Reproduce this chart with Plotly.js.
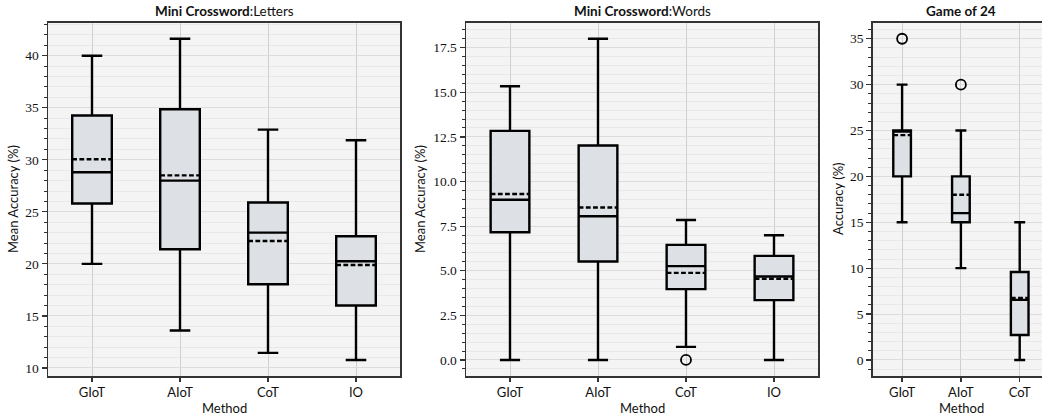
<!DOCTYPE html>
<html>
<head>
<meta charset="utf-8">
<script src="https://cdn.plot.ly/plotly-3.0.1.min.js"></script>
<style>html,body{margin:0;padding:0;background:#fff;}#chart{width:1042px;height:416px;}</style>
</head>
<body>
<div id="chart"></div>
<script>
// ---- data ----
const methods4 = ['GIoT', 'AIoT', 'CoT', 'IO'];
const methods3 = ['GIoT', 'AIoT', 'CoT'];

const lettersQ1 = [25.8, 21.4, 18.05, 16.0];
const lettersMedian = [28.8, 28.0, 23.0, 20.25];
const lettersQ3 = [34.25, 34.85, 25.9, 22.65];
const lettersLower = [20.0, 13.6, 11.45, 10.77];
const lettersUpper = [40.0, 41.63, 32.9, 31.88];
const lettersMean = [30.05, 28.5, 22.2, 19.9];

const wordsQ1 = [7.16, 5.52, 3.97, 3.35];
const wordsMedian = [8.98, 8.05, 5.26, 4.68];
const wordsQ3 = [12.84, 12.02, 6.45, 5.83];
const wordsLower = [0.0, 0.0, 0.73, 0.0];
const wordsUpper = [15.34, 18.0, 7.84, 6.99];
const wordsMean = [9.3, 8.54, 4.88, 4.55];
const wordsOutlierX = ['CoT'];
const wordsOutlierY = [0.0];

const g24Q1 = [20, 15, 2.72];
const g24Median = [25, 16, 6.55];
const g24Q3 = [25, 20, 9.59];
const g24Lower = [15, 10, 0];
const g24Upper = [30, 25, 15];
const g24Mean = [24.5, 18, 6.75];
const g24OutlierX = ['GIoT', 'AIoT'];
const g24OutlierY = [35, 30];

// ---- styling ----
const W = 1042, H = 416;
const BOXFILL = '#dde0e5';
const serif = 'Liberation Serif, serif';
const sans = 'Lato, DejaVu Sans, sans-serif';

function boxTrace(x, q1, med, q3, lo, hi, mean, xa, ya, width, ww) {
  return {
    type: 'box', x: x, q1: q1, median: med, q3: q3,
    lowerfence: lo, upperfence: hi, mean: mean,
    boxmean: true, boxpoints: false,
    width: width, whiskerwidth: ww,
    fillcolor: BOXFILL,
    line: {color: '#000', width: 2.4},
    xaxis: xa, yaxis: ya, showlegend: false, hoverinfo: 'skip'
  };
}
function outlierTrace(x, y, xa, ya) {
  return {
    type: 'scatter', mode: 'markers', x: x, y: y,
    marker: {symbol: 'circle-open', size: 10, color: '#000', line: {width: 1.8, color: '#000'}},
    xaxis: xa, yaxis: ya, showlegend: false, hoverinfo: 'skip', cliponaxis: false
  };
}

const data = [
  boxTrace(methods4, lettersQ1, lettersMedian, lettersQ3, lettersLower, lettersUpper, lettersMean, 'x', 'y', 0.45, 0.52),
  boxTrace(methods4, wordsQ1, wordsMedian, wordsQ3, wordsLower, wordsUpper, wordsMean, 'x2', 'y2', 0.44, 0.52),
  outlierTrace(wordsOutlierX, wordsOutlierY, 'x2', 'y2'),
  boxTrace(methods3, g24Q1, g24Median, g24Q3, g24Lower, g24Upper, g24Mean, 'x3', 'y3', 0.3, 0.62),
  outlierTrace(g24OutlierX, g24OutlierY, 'x3', 'y3')
];

const yDom = [(H - 376) / H, (H - 22.7) / H];
function xAxis(domain, range, anchor) {
  return {
    domain: domain, range: range, type: 'category', anchor: anchor,
    categoryorder: 'array',
    showgrid: true, gridcolor: '#cfcfcf', gridwidth: 1,
    showline: true, linecolor: '#333', linewidth: 1.5, mirror: true,
    ticks: 'outside', ticklen: 4, tickcolor: '#333', tickwidth: 1.2,
    tickfont: {family: sans, size: 13, color: '#111'},
    zeroline: false, fixedrange: true
  };
}
function yAxis(range, dtick, minorDtick, fmt, anchor, mirror) {
  return {
    domain: yDom, range: range, anchor: anchor,
    tick0: 0, dtick: dtick, tickformat: fmt,
    showgrid: true, gridcolor: '#dcdcdc', gridwidth: 1,
    minor: {dtick: minorDtick, tick0: 0, ticks: 'outside', ticklen: 3, tickcolor: '#333', tickwidth: 1,
            showgrid: true, gridcolor: '#e8e8e8', gridwidth: 1},
    showline: true, linecolor: '#333', linewidth: 1.5, mirror: mirror,
    ticks: 'outside', ticklen: 5, tickcolor: '#333', tickwidth: 1.2,
    tickfont: {family: serif, size: 13.5, color: '#111'},
    zeroline: false, fixedrange: true
  };
}

const d1 = [48 / W, 400 / W];
const d2 = [466 / W, 818 / W];
const d3 = [872.7 / W, 1];
const x3Right = -0.5 + (1042 - 872.7) / 58.8;

function ann(text, px, py, size, font, extra) {
  return Object.assign({
    text: text, xref: 'paper', yref: 'paper', x: px / W, y: 1 - py / H,
    showarrow: false, xanchor: 'center', yanchor: 'middle',
    font: {family: font, size: size, color: '#111'}
  }, extra || {});
}

const layout = {
  width: W, height: H,
  margin: {l: 0, r: 0, t: 0, b: 0},
  paper_bgcolor: '#ffffff',
  plot_bgcolor: '#f4f4f4',
  showlegend: false,
  xaxis: xAxis(d1, [-0.5, 3.5], 'y'),
  yaxis: yAxis([9.23, 43.17], 5, 1, 'd', 'x', true),
  xaxis2: xAxis(d2, [-0.5, 3.5], 'y2'),
  yaxis2: yAxis([-0.9, 18.9], 2.5, 0.5, '.1f', 'x2', true),
  xaxis3: xAxis(d3, [-0.5, x3Right], 'y3'),
  yaxis3: yAxis([-1.75, 36.75], 5, 1, 'd', 'x3', false),
  annotations: [
    ann('<b>Mini Crossword</b>:Letters', 224, 11, 13.5, sans),
    ann('<b>Mini Crossword</b>:Words', 642, 11, 13.5, sans),
    ann('<b>Game of 24</b>', 961, 11, 13.5, sans),
    ann('Mean Accuracy (%)', 13, 199, 13, sans, {textangle: -90}),
    ann('Mean Accuracy (%)', 420, 199, 13, sans, {textangle: -90}),
    ann('Accuracy (%)', 838, 199, 13, sans, {textangle: -90}),
    ann('Method', 224, 408, 13, sans),
    ann('Method', 642, 408, 13, sans),
    ann('Method', 961, 408, 13, sans)
  ]
};

Plotly.newPlot('chart', data, layout, {staticPlot: true, displayModeBar: false});
</script>
</body>
</html>
